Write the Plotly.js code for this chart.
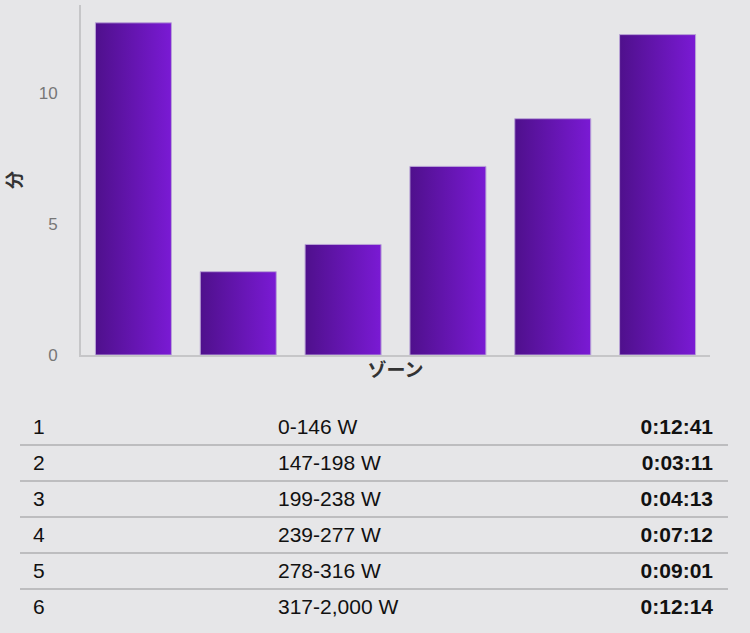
<!DOCTYPE html>
<html>
<head>
<meta charset="utf-8">
<script src="https://cdn.plot.ly/plotly-3.0.1.min.js"></script>
<style>
  html, body { margin: 0; padding: 0; background: #e6e6e8; }
  body { width: 750px; height: 633px; overflow: hidden; font-family: "Liberation Sans", Arial, sans-serif; }
  #plot { width: 750px; height: 392px; }
  #zones { position: absolute; left: 20px; top: 410px; width: 708px; border-collapse: collapse; }
  #zones td { height: 34px; padding: 0; font-size: 21px; color: #111; border-bottom: 2px solid #bdbdbf; vertical-align: middle; }
  #zones tr:last-child td { border-bottom: none; }
  #zones td.num { padding-left: 13px; width: 245px; }
  #zones td.time { text-align: right; font-weight: bold; padding-right: 15px; }
</style>
</head>
<body>
<div id="plot"></div>
<table id="zones"></table>
<script>
// ゾーン別の時間
const zones = ['1', '2', '3', '4', '5', '6'];
const ranges = ['0-146 W', '147-198 W', '199-238 W', '239-277 W', '278-316 W', '317-2,000 W'];
const durations = ['0:12:41', '0:03:11', '0:04:13', '0:07:12', '0:09:01', '0:12:14'];
const minutes = [12.68, 3.18, 4.22, 7.2, 9.02, 12.23];

const trace = {
    x: zones,
    y: minutes,
    type: 'bar',
    marker: { color: '#6415b0', line: { color: '#b9a3d6', width: 1 } },
    hoverinfo: 'none'
};

const layout = {
    width: 750,
    height: 392,
    margin: { l: 81, r: 40, t: 5, b: 37 },
    paper_bgcolor: '#e6e6e8',
    plot_bgcolor: '#e6e6e8',
    bargap: 0.275,
    showlegend: false,
    font: { family: '"Liberation Sans", Arial, sans-serif' },
    xaxis: {
        showticklabels: false,
        ticks: '',
        showgrid: false,
        zeroline: false,
        showline: true,
        linecolor: '#c6c6c8',
        linewidth: 2,
        title: { text: 'ゾーン', standoff: 8, font: { family: '"Noto Sans CJK JP", sans-serif', size: 19, color: '#333', weight: 'bold' } }
    },
    yaxis: {
        range: [0, 13.36],
        tickvals: [0, 5, 10],
        showgrid: false,
        zeroline: false,
        showline: true,
        linecolor: '#c6c6c8',
        linewidth: 2,
        ticks: '',
        ticklabelstandoff: 18,
        tickfont: { size: 17, color: '#777' },
        title: { text: '分', standoff: 40, font: { family: '"Noto Sans CJK JP", sans-serif', size: 18, color: '#333', weight: 'bold' } }
    }
};

// 表
const table = document.getElementById('zones');
zones.forEach(function(z, i) {
    const tr = document.createElement('tr');
    tr.innerHTML = '<td class="num">' + z + '</td><td>' + ranges[i] + '</td><td class="time">' + durations[i] + '</td>';
    table.appendChild(tr);
});

Plotly.newPlot('plot', [trace], layout, { staticPlot: true }).then(function(gd) {
    // グラデーション
    const svg = gd.querySelector('svg.main-svg');
    const ns = 'http://www.w3.org/2000/svg';
    let defs = svg.querySelector('defs');
    const grad = document.createElementNS(ns, 'linearGradient');
    grad.setAttribute('id', 'barGrad');
    grad.setAttribute('x1', '0'); grad.setAttribute('x2', '1');
    grad.setAttribute('y1', '0'); grad.setAttribute('y2', '0');
    [['0', '#4f108c'], ['1', '#7a1ad4']].forEach(function(s) {
        const stop = document.createElementNS(ns, 'stop');
        stop.setAttribute('offset', s[0]);
        stop.setAttribute('stop-color', s[1]);
        grad.appendChild(stop);
    });
    defs.appendChild(grad);
    gd.querySelectorAll('.bars .point path').forEach(function(p) {
        p.style.fill = 'url(#barGrad)';
    });
});
</script>
</body>
</html>
